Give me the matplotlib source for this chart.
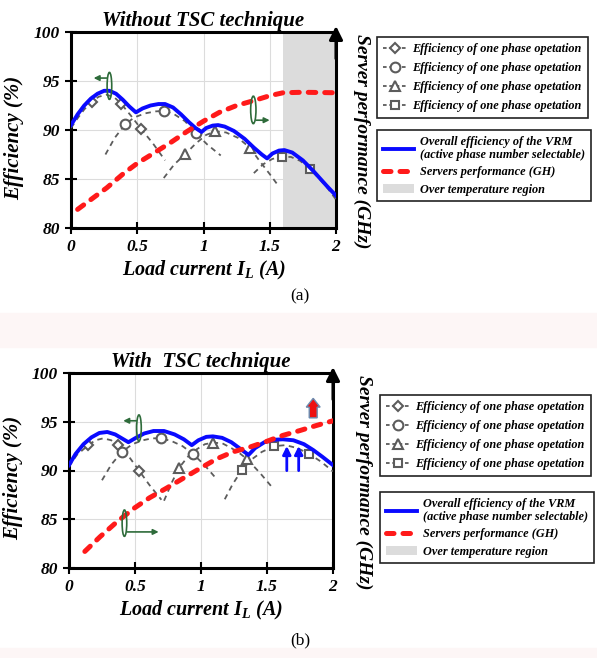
import numpy as np
import matplotlib.pyplot as plt
from matplotlib.lines import Line2D
from matplotlib.patches import Patch, Ellipse, Rectangle, FancyArrow

plt.rcParams['font.family'] = 'Liberation Serif'
plt.rcParams['font.weight'] = 'bold'
plt.rcParams['font.style'] = 'italic'
plt.rcParams['axes.titleweight'] = 'bold'
plt.rcParams['axes.labelweight'] = 'bold'
plt.rcParams['mathtext.default'] = 'regular'

# ---------------- panel (a): without TSC ----------------
a_blue_x = [0.00, 0.05, 0.10, 0.15, 0.20, 0.25, 0.29, 0.34, 0.39, 0.44, 0.49, 0.54, 0.60, 0.66,
            0.71, 0.77, 0.83, 0.89, 0.94, 0.985, 1.02, 1.07, 1.11, 1.16, 1.23, 1.31, 1.38, 1.44,
            1.48, 1.52, 1.57, 1.61, 1.67, 1.75, 1.83, 1.93, 2.00]
a_blue_y = [90.5, 91.6, 92.5, 93.2, 93.7, 94.0, 94.0, 93.7, 93.1, 92.4, 91.8, 92.2, 92.5, 92.65,
            92.65, 92.3, 91.6, 90.8, 90.2, 89.8, 90.2, 90.45, 90.5, 90.35, 89.9, 89.1, 88.2, 87.5,
            87.1, 87.6, 87.9, 87.95, 87.7, 86.9, 85.8, 84.3, 83.3]

a_red_x = [0.05, 0.15, 0.27, 0.40, 0.50, 0.62, 0.75, 0.87, 1.00, 1.12, 1.25, 1.38, 1.50, 1.60, 1.75, 2.00]
a_red_y = [81.9, 82.9, 84.1, 85.6, 86.6, 87.6, 88.7, 89.8, 90.9, 91.8, 92.5, 93.0, 93.5, 93.8, 93.85, 93.8]

a_p1_x = [0.00, 0.05, 0.10, 0.156, 0.21, 0.27, 0.33, 0.377, 0.45, 0.53, 0.62, 0.71]
a_p1_y = [90.2, 91.2, 92.1, 92.9, 93.4, 93.6, 93.3, 92.7, 91.5, 90.1, 88.6, 86.9]
a_p2_x = [0.26, 0.33, 0.41, 0.48, 0.56, 0.64, 0.70, 0.78, 0.86, 0.94, 1.03, 1.13]
a_p2_y = [87.5, 89.2, 90.6, 91.3, 91.7, 91.9, 91.95, 91.6, 90.9, 89.7, 88.5, 87.4]
a_p3_x = [0.70, 0.78, 0.86, 0.94, 1.02, 1.09, 1.17, 1.26, 1.35, 1.42, 1.50, 1.56]
a_p3_y = [85.1, 86.5, 87.5, 88.6, 89.5, 89.85, 89.75, 89.2, 88.2, 86.9, 85.5, 84.4]
a_p4_x = [1.38, 1.45, 1.52, 1.59, 1.66, 1.73, 1.80, 1.87, 1.94, 2.00]
a_p4_y = [85.6, 86.5, 87.05, 87.25, 87.25, 86.85, 86.05, 85.1, 84.0, 82.9]

a_m1 = ([0.156, 0.377, 0.53], [92.9, 92.7, 90.1])
a_m2 = ([0.41, 0.70, 0.94], [90.6, 91.95, 89.7])
a_m3 = ([0.86, 1.09, 1.35], [87.5, 89.85, 88.2])
a_m4 = ([1.59, 1.80], [87.25, 86.05])

# ---------------- panel (b): with TSC ----------------
b_blue_x = [0.00, 0.05, 0.11, 0.17, 0.23, 0.29, 0.35, 0.40, 0.45, 0.50, 0.57, 0.64, 0.72, 0.80,
            0.87, 0.93, 0.98, 1.04, 1.09, 1.16, 1.23, 1.30, 1.36, 1.41, 1.48, 1.55, 1.62, 1.70,
            1.78, 1.85, 1.92, 2.00]
b_blue_y = [90.55, 91.7, 92.7, 93.4, 93.85, 93.95, 93.7, 93.3, 92.9, 93.3, 93.8, 94.05, 94.05, 93.7,
            93.2, 92.6, 93.1, 93.45, 93.5, 93.35, 92.9, 92.2, 91.6, 92.3, 92.9, 93.15, 93.2, 93.1,
            92.7, 92.1, 91.4, 90.55]

b_red_x = [0.12, 0.235, 0.36, 0.49, 0.61, 0.74, 0.865, 0.99, 1.12, 1.24, 1.37, 1.50, 1.62, 1.75, 1.87, 2.00]
b_red_y = [81.7, 83.2, 84.7, 86.1, 87.2, 88.2, 89.2, 90.2, 91.2, 91.9, 92.4, 93.0, 93.6, 94.1, 94.6, 95.1]

b_p1_x = [0.00, 0.06, 0.146, 0.20, 0.26, 0.32, 0.37, 0.45, 0.53, 0.61, 0.70]
b_p1_y = [90.4, 91.6, 92.6, 93.1, 93.3, 93.1, 92.6, 91.5, 90.0, 88.5, 87.0]
b_p2_x = [0.25, 0.32, 0.40, 0.48, 0.56, 0.63, 0.70, 0.78, 0.86, 0.94, 1.03, 1.12]
b_p2_y = [89.0, 90.6, 91.9, 92.7, 93.1, 93.3, 93.3, 93.0, 92.5, 91.7, 90.5, 89.1]
b_p3_x = [0.72, 0.78, 0.835, 0.90, 0.97, 1.03, 1.09, 1.16, 1.23, 1.29, 1.35, 1.45, 1.55]
b_p3_y = [86.9, 88.8, 90.3, 91.4, 92.2, 92.7, 92.85, 92.8, 92.3, 91.8, 91.15, 89.7, 88.1]
b_p4_x = [1.18, 1.24, 1.31, 1.38, 1.46, 1.555, 1.64, 1.73, 1.82, 1.91, 2.00]
b_p4_y = [87.05, 88.6, 90.05, 91.1, 91.9, 92.5, 92.6, 92.3, 91.7, 90.9, 89.9]

b_m1 = ([0.146, 0.37, 0.53], [92.6, 92.6, 90.0])
b_m2 = ([0.40, 0.70, 0.94], [91.9, 93.3, 91.7])
b_m3 = ([0.835, 1.09, 1.35], [90.3, 92.85, 91.15])
b_m4 = ([1.31, 1.555, 1.82], [90.05, 92.5, 91.7])

x_ticks = [0, 0.5, 1, 1.5, 2]
x_ticklabels = ['0', '0.5', '1', '1.5', '2']
y_ticks = [80, 85, 90, 95, 100]

phase_label = 'Efficiency of one phase opetation'
markers = ['D', 'o', '^', 's']
msizes = [5, 7, 7, 6]

gray = '#5c5c5c'
blue = '#0a0aff'
red = '#ff1a1a'
green = '#2e6b3a'


def draw_panel(ax, blue_x, blue_y, red_x, red_y, phases, marks, title):
    ax.set_xlim(0, 2)
    ax.set_ylim(80, 100)
    ax.grid(True, color='#dcdcdc', lw=0.8)
    ax.set_axisbelow(True)
    for (px, py) in phases:
        ax.plot(px, py, color=gray, lw=1.3, ls=(0, (3, 2.5)), zorder=3)
    for (mx, my), m, ms in zip(marks, markers, msizes):
        ax.plot(mx, my, ls='none', marker=m, ms=ms, mfc='white', mec=gray, mew=1.5, zorder=4)
    ax.plot(blue_x, blue_y, color=blue, lw=2.8, zorder=5)
    ax.plot(red_x, red_y, color=red, lw=3.6, ls=(0, (1.5, 1.8)), dash_capstyle='round', zorder=6)
    ax.set_xticks(x_ticks)
    ax.set_xticklabels(x_ticklabels)
    ax.set_yticks(y_ticks)
    ax.tick_params(labelsize=12.5, width=1.5, length=9, direction='inout', right=False, top=False)
    for s in ax.spines.values():
        s.set_linewidth(2.2)
    ax.set_xlabel('Load current $I_L$ (A)', fontsize=14.5, labelpad=3)
    ax.set_ylabel('Efficiency (%)', fontsize=15)
    ax.yaxis.set_label_coords(-0.175, 0.46)
    ax.set_title(title, fontsize=15, pad=4)
    # arrow on right axis (server performance)
    ax.annotate('', xy=(1, 1.045), xytext=(1, 0.85), xycoords='axes fraction',
                arrowprops=dict(arrowstyle='-|>', color='k', lw=2.2, mutation_scale=20),
                annotation_clip=False)


def ring(ax, cx, cy, w, h, x_end, y_arrow):
    ax.add_patch(Ellipse((cx, cy), w, h, fill=False, ec=green, lw=1.2, zorder=7))
    ax.annotate('', xy=(x_end, y_arrow), xytext=(cx, y_arrow),
                arrowprops=dict(arrowstyle='-|>', color=green, lw=1.2, mutation_scale=8), zorder=7)


fig = plt.figure(figsize=(5.97, 6.58), dpi=100)

# faint pink bands of the scanned page
fig.patches.append(Rectangle((0, 1 - 347 / 658), 1, 34 / 658, transform=fig.transFigure,
                             color='#fdf6f6', zorder=0))
fig.patches.append(Rectangle((0, 0), 1, 10 / 658, transform=fig.transFigure,
                             color='#fdf6f6', zorder=0))

ax1 = fig.add_axes([71 / 597, 1 - 228 / 658, 265 / 597, 196 / 658])
ax1.axvspan(1.6, 2.0, color='#dcdcdc', zorder=1, lw=0)
draw_panel(ax1, a_blue_x, a_blue_y, a_red_x, a_red_y,
           [(a_p1_x, a_p1_y), (a_p2_x, a_p2_y), (a_p3_x, a_p3_y), (a_p4_x, a_p4_y)],
           [a_m1, a_m2, a_m3, a_m4], 'Without TSC technique')
ring(ax1, 0.29, 94.5, 0.035, 2.75, 0.15, 95.3)
ring(ax1, 1.376, 92.05, 0.04, 2.8, 1.52, 91.0)

ax2 = fig.add_axes([69 / 597, 1 - 568 / 658, 264 / 597, 195 / 658])
draw_panel(ax2, b_blue_x, b_blue_y, b_red_x, b_red_y,
           [(b_p1_x, b_p1_y), (b_p2_x, b_p2_y), (b_p3_x, b_p3_y), (b_p4_x, b_p4_y)],
           [b_m1, b_m2, b_m3, b_m4], 'With  TSC technique')
ring(ax2, 0.53, 94.35, 0.035, 2.7, 0.39, 95.1)
ring(ax2, 0.42, 84.6, 0.035, 2.7, 0.70, 83.7)
for bx in [1.65, 1.74]:
    ax2.annotate('', xy=(bx, 92.8), xytext=(bx, 89.7),
                 arrowprops=dict(arrowstyle='-|>', color=blue, lw=2, mutation_scale=12), zorder=8)
ax2.add_patch(FancyArrow(1.85, 95.4, 0, 2.0, width=0.06, head_width=0.105, head_length=0.9,
                         length_includes_head=True, fc='#ee1111', ec='#6a8cb0', lw=1, zorder=8))

# right side axis titles
fig.text(362 / 597, 1 - 34 / 658, 'Server performance (GHz)', rotation=270, fontsize=14,
         ha='center', va='top')
fig.text(364 / 597, 1 - 375 / 658, 'Server performance (GHz)', rotation=270, fontsize=14,
         ha='center', va='top')

# panel captions
fig.text(300 / 597, 1 - 296 / 658, '(a)', fontsize=12.5, fontweight='normal', fontstyle='normal',
         ha='center', va='center')
fig.text(300 / 597, 1 - 640 / 658, '(b)', fontsize=12.5, fontweight='normal', fontstyle='normal',
         ha='center', va='center')

# legends
phase_handles = [Line2D([], [], color=gray, lw=1.3, ls=(0, (2, 1.5)), marker=m, ms=ms,
                        mfc='white', mec=gray, mew=1.5) for m, ms in zip(markers, msizes)]
main_handles = [Line2D([], [], color=blue, lw=2.8),
                Line2D([], [], color=red, lw=3.6, ls=(0, (1.5, 1.8)), dash_capstyle='round'),
                Patch(facecolor='#dcdcdc', edgecolor='none')]
main_labels = ['Overall efficiency of the VRM\n(active phase number selectable)',
               'Servers performance (GH)', 'Over temperature region']

for top1, top2, left in [(37, 130, 377), (395, 492, 380)]:
    lg1 = fig.legend(phase_handles, [phase_label] * 4, loc='upper left',
                     bbox_to_anchor=(left / 597, 1 - top1 / 658), fontsize=8.8,
                     handlelength=2.0, handletextpad=0.4, labelspacing=0.58, borderpad=0.5,
                     fancybox=False, edgecolor='#222222', framealpha=1, borderaxespad=0)
    lg1.get_frame().set_linewidth(1.2)
    lg2 = fig.legend(main_handles, main_labels, loc='upper left',
                     bbox_to_anchor=(left / 597, 1 - top2 / 658), fontsize=8.8,
                     handlelength=2.6, handletextpad=0.5, labelspacing=0.42, borderpad=0.45,
                     fancybox=False, edgecolor='#222222', framealpha=1, borderaxespad=0)
    lg2.get_frame().set_linewidth(1.2)

fig.savefig('out.png', dpi=100)
